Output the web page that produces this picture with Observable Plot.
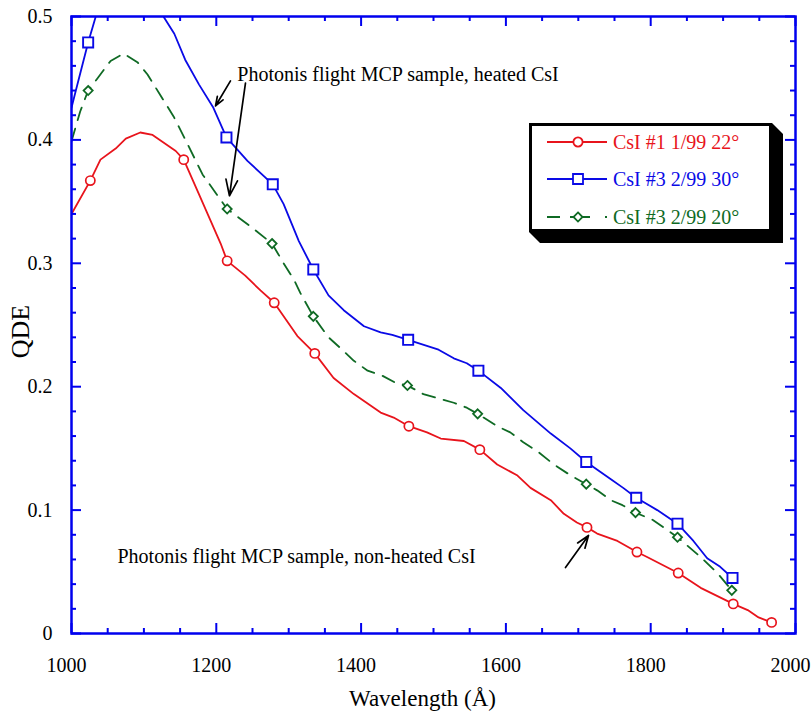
<!DOCTYPE html>
<html><head><meta charset="utf-8">
<script src="https://cdn.jsdelivr.net/npm/d3@7"></script>
<script src="https://cdn.jsdelivr.net/npm/@observablehq/plot@0.6"></script>
<style>
body{margin:0;background:#fff}
#wrap{position:relative;width:812px;height:711px;background:#fff}
#wrap svg{display:block}
#legend{position:absolute;left:0;top:0;pointer-events:none}
</style>
</head><body><div id="wrap"></div>
<script>
// ---- data (wavelength in Å, QDE) ----
const redWl  = [1000,1026,1040,1061,1075,1095,1112,1144,1155,1176,1206,1215,1240,1261,1280,1312,1336,1362,1390,1427,1445,1466,1491,1510,1542,1564,1588,1616,1634,1662,1680,1698,1712,1726,1754,1781,1795,1838,1869,1914,1934,1949,1967];
const redQde = [0.340,0.367,0.384,0.393,0.401,0.406,0.404,0.391,0.384,0.356,0.316,0.302,0.290,0.278,0.268,0.241,0.227,0.207,0.194,0.179,0.175,0.168,0.163,0.158,0.156,0.149,0.137,0.128,0.118,0.108,0.097,0.090,0.086,0.081,0.075,0.066,0.062,0.049,0.037,0.024,0.019,0.013,0.009];
const redMarkWl  = [1026,1155,1215,1280,1336,1466,1564,1712,1781,1838,1914,1967];
const redMarkQde = [0.367,0.384,0.302,0.268,0.227,0.168,0.149,0.086,0.066,0.049,0.024,0.009];

const blueWl  = [1000,1006,1023,1036,1060,1090,1115,1127,1142,1157,1176,1196,1214,1243,1278,1293,1314,1334,1355,1376,1404,1427,1443,1465,1507,1528,1546,1562,1593,1624,1662,1689,1711,1745,1762,1780,1809,1837,1859,1878,1896,1913];
const blueQde = [0.426,0.440,0.479,0.505,0.530,0.540,0.520,0.500,0.486,0.465,0.445,0.426,0.402,0.383,0.364,0.348,0.318,0.295,0.274,0.262,0.249,0.244,0.242,0.238,0.230,0.223,0.219,0.213,0.199,0.181,0.162,0.150,0.139,0.125,0.118,0.110,0.100,0.089,0.075,0.061,0.054,0.045];
const blueMarkWl  = [1023,1214,1278,1334,1465,1562,1711,1780,1837,1913];
const blueMarkQde = [0.479,0.402,0.364,0.295,0.238,0.213,0.139,0.110,0.089,0.045];

const greenWl  = [1000,1012,1023,1036,1054,1072,1091,1105,1123,1141,1160,1181,1215,1247,1277,1293,1307,1316,1334,1355,1372,1390,1409,1429,1448,1464,1486,1510,1528,1546,1561,1588,1606,1624,1645,1666,1687,1711,1726,1745,1761,1779,1803,1837,1869,1892,1912];
const greenQde = [0.399,0.423,0.440,0.450,0.464,0.470,0.463,0.453,0.436,0.419,0.397,0.372,0.344,0.330,0.316,0.300,0.287,0.276,0.257,0.240,0.231,0.221,0.213,0.209,0.203,0.201,0.194,0.190,0.187,0.183,0.178,0.168,0.163,0.155,0.147,0.137,0.129,0.121,0.116,0.108,0.104,0.098,0.092,0.078,0.062,0.049,0.035];
const greenMarkWl  = [1023,1215,1277,1334,1464,1561,1711,1779,1837,1912];
const greenMarkQde = [0.440,0.344,0.316,0.257,0.201,0.178,0.121,0.098,0.078,0.035];

const seriesLabels = ["CsI #1 1/99 22°", "CsI #3 2/99 30°", "CsI #3 2/99 20°"];

const xMajorTicks = [1000,1200,1400,1600,1800,2000];
const xMinorTicks = [1050,1100,1150,1250,1300,1350,1450,1500,1550,1650,1700,1750,1850,1900,1950];
const yMajorTicks = [0,0.1,0.2,0.3,0.4,0.5];
const yMinorTicks = [0.02,0.04,0.06,0.08,0.12,0.14,0.16,0.18,0.22,0.24,0.26,0.28,0.32,0.34,0.36,0.38,0.42,0.44,0.46,0.48];

const annotationTexts = ["Photonis flight MCP sample, heated CsI", "Photonis flight MCP sample, non-heated CsI"];
const annotationX = [1229, 1063.5];
const annotationY = [0.4532, 0.0621];
// arrows: start / end in data units
const arrowX1 = [1219.6, 1240.3, 1682.3];
const arrowY1 = [0.4478, 0.4460, 0.0534];
const arrowX2 = [1198.9, 1218.2, 1714.1];
const arrowY2 = [0.4275, 0.3547, 0.0794];

// ---- build tables ----
const zip = (xs, ys) => xs.map((x, i) => ({wl: x, q: ys[i]}));
const red = zip(redWl, redQde), redM = zip(redMarkWl, redMarkQde);
const blue = zip(blueWl, blueQde), blueM = zip(blueMarkWl, blueMarkQde);
const green = zip(greenWl, greenQde), greenM = zip(greenMarkWl, greenMarkQde);
const annotations = annotationTexts.map((t, i) => ({t, x: annotationX[i], y: annotationY[i]}));
const arrows = arrowX1.map((x, i) => ({x1: x, y1: arrowY1[i], x2: arrowX2[i], y2: arrowY2[i]}));

const RED = "#e8141c", BLUE = "#0a0ae6", GREEN = "#0f6a24", AXIS = "#0000ee";
const FONT = "'Liberation Serif','Times New Roman',Times,serif";
const W = 812, H = 711, mL = 71, mR = 17, mT = 16, mB = 78;
const plotH = H - mT - mB, plotW = W - mL - mR;
const DASH = "13,9";

const chart = Plot.plot({
  width: W, height: H,
  marginLeft: mL, marginRight: mR, marginTop: mT, marginBottom: mB,
  x: {type: "linear", domain: [1000, 2000]},
  y: {type: "linear", domain: [0, 0.5]},
  style: {fontFamily: FONT, background: "#fff", color: "black"},
  marks: [
    Plot.line(green, {x: "wl", y: "q", stroke: GREEN, strokeWidth: 1.8, strokeDasharray: DASH, clip: true}),
    Plot.line(red, {x: "wl", y: "q", stroke: RED, strokeWidth: 1.8, clip: true}),
    Plot.line(blue, {x: "wl", y: "q", stroke: BLUE, strokeWidth: 1.8, clip: true}),
    Plot.dot(greenM, {x: "wl", y: "q", symbol: "diamond2", r: 4.1, stroke: GREEN, fill: "white", strokeWidth: 1.8}),
    Plot.dot(redM, {x: "wl", y: "q", symbol: "circle", r: 4.6, stroke: RED, fill: "white", strokeWidth: 1.7}),
    Plot.dot(blueM, {x: "wl", y: "q", symbol: "square", r: 5.7, stroke: BLUE, fill: "white", strokeWidth: 1.9}),
    Plot.arrow(arrows, {x1: "x1", y1: "y1", x2: "x2", y2: "y2", stroke: "black", strokeWidth: 1.7, headLength: 15, headAngle: 40}),
    Plot.text(annotations, {x: "x", y: "y", text: "t", textAnchor: "start", fontSize: 20, fill: "black", fontFamily: FONT}),
    Plot.frame({stroke: AXIS, strokeWidth: 2.5}),
    // ticks pointing inward on all four sides
    Plot.ruleX(xMajorTicks, {x: d => d, stroke: AXIS, strokeWidth: 2, insetTop: plotH - 10}),
    Plot.ruleX(xMinorTicks, {x: d => d, stroke: AXIS, strokeWidth: 2, insetTop: plotH - 5}),
    Plot.ruleX(xMajorTicks, {x: d => d, stroke: AXIS, strokeWidth: 2, insetBottom: plotH - 10}),
    Plot.ruleX(xMinorTicks, {x: d => d, stroke: AXIS, strokeWidth: 2, insetBottom: plotH - 5}),
    Plot.ruleY(yMajorTicks, {y: d => d, stroke: AXIS, strokeWidth: 2, insetRight: plotW - 10}),
    Plot.ruleY(yMinorTicks, {y: d => d, stroke: AXIS, strokeWidth: 2, insetRight: plotW - 5}),
    Plot.ruleY(yMajorTicks, {y: d => d, stroke: AXIS, strokeWidth: 2, insetLeft: plotW - 10}),
    Plot.ruleY(yMinorTicks, {y: d => d, stroke: AXIS, strokeWidth: 2, insetLeft: plotW - 5}),
    Plot.axisX({ticks: xMajorTicks, tickSize: 0, tickPadding: 24, dx: -5, fontSize: 20, label: null, tickFormat: d => String(d), fontFamily: FONT, fill: "black"}),
    Plot.axisY({ticks: yMajorTicks, tickSize: 0, tickPadding: 19, fontSize: 20, label: null, tickFormat: d => String(d), fontFamily: FONT, fill: "black"}),
    Plot.text(["Wavelength (Å)"], {frameAnchor: "bottom", textAnchor: "middle", lineAnchor: "bottom", dy: 72, dx: -11, fontSize: 23, fill: "black", fontFamily: FONT}),
    Plot.text(["QDE"], {frameAnchor: "left", textAnchor: "middle", lineAnchor: "middle", rotate: -90, dx: -51, dy: 6.5, fontSize: 26, fill: "black", fontFamily: FONT})
  ]
});
const wrap = document.getElementById("wrap");
wrap.appendChild(chart);

// ---- legend (overlay, inside the plot frame) ----
const colors = [RED, BLUE, GREEN];
const symbols = [d3.symbolCircle, d3.symbolSquare, d3.symbolDiamond2];
const symSizes = [Math.PI * 4.6 * 4.6, 100, 52];
const lg = d3.select(wrap).append("svg").attr("id", "legend").attr("width", W).attr("height", H);
const bx = 529, by = 123, bw = 243, bh = 109, sh = 11;
lg.append("path").attr("fill", "black")
  .attr("d", `M${bx + bw},${by} L${bx + bw + sh},${by + sh} L${bx + bw + sh},${by + bh + sh} L${bx + sh},${by + bh + sh} L${bx},${by + bh} Z`);
lg.append("rect").attr("x", bx + 1.5).attr("y", by + 1.5).attr("width", bw - 3).attr("height", bh - 3)
  .attr("fill", "white").attr("stroke", "black").attr("stroke-width", 3);
seriesLabels.forEach((label, i) => {
  const cy = [142, 179, 217][i];
  lg.append("line").attr("x1", 547).attr("x2", 607).attr("y1", cy).attr("y2", cy)
    .attr("stroke", colors[i]).attr("stroke-width", 1.8)
    .attr("stroke-dasharray", i === 2 ? "13,10,20,15,2" : null);
  lg.append("path").attr("transform", `translate(578,${cy})`)
    .attr("d", d3.symbol(symbols[i], symSizes[i])())
    .attr("fill", "white").attr("stroke", colors[i]).attr("stroke-width", 1.8);
  lg.append("text").attr("x", 613).attr("y", cy + 7).attr("fill", colors[i])
    .attr("font-family", FONT).attr("font-size", 20).text(label);
});
</script>
</body></html>
